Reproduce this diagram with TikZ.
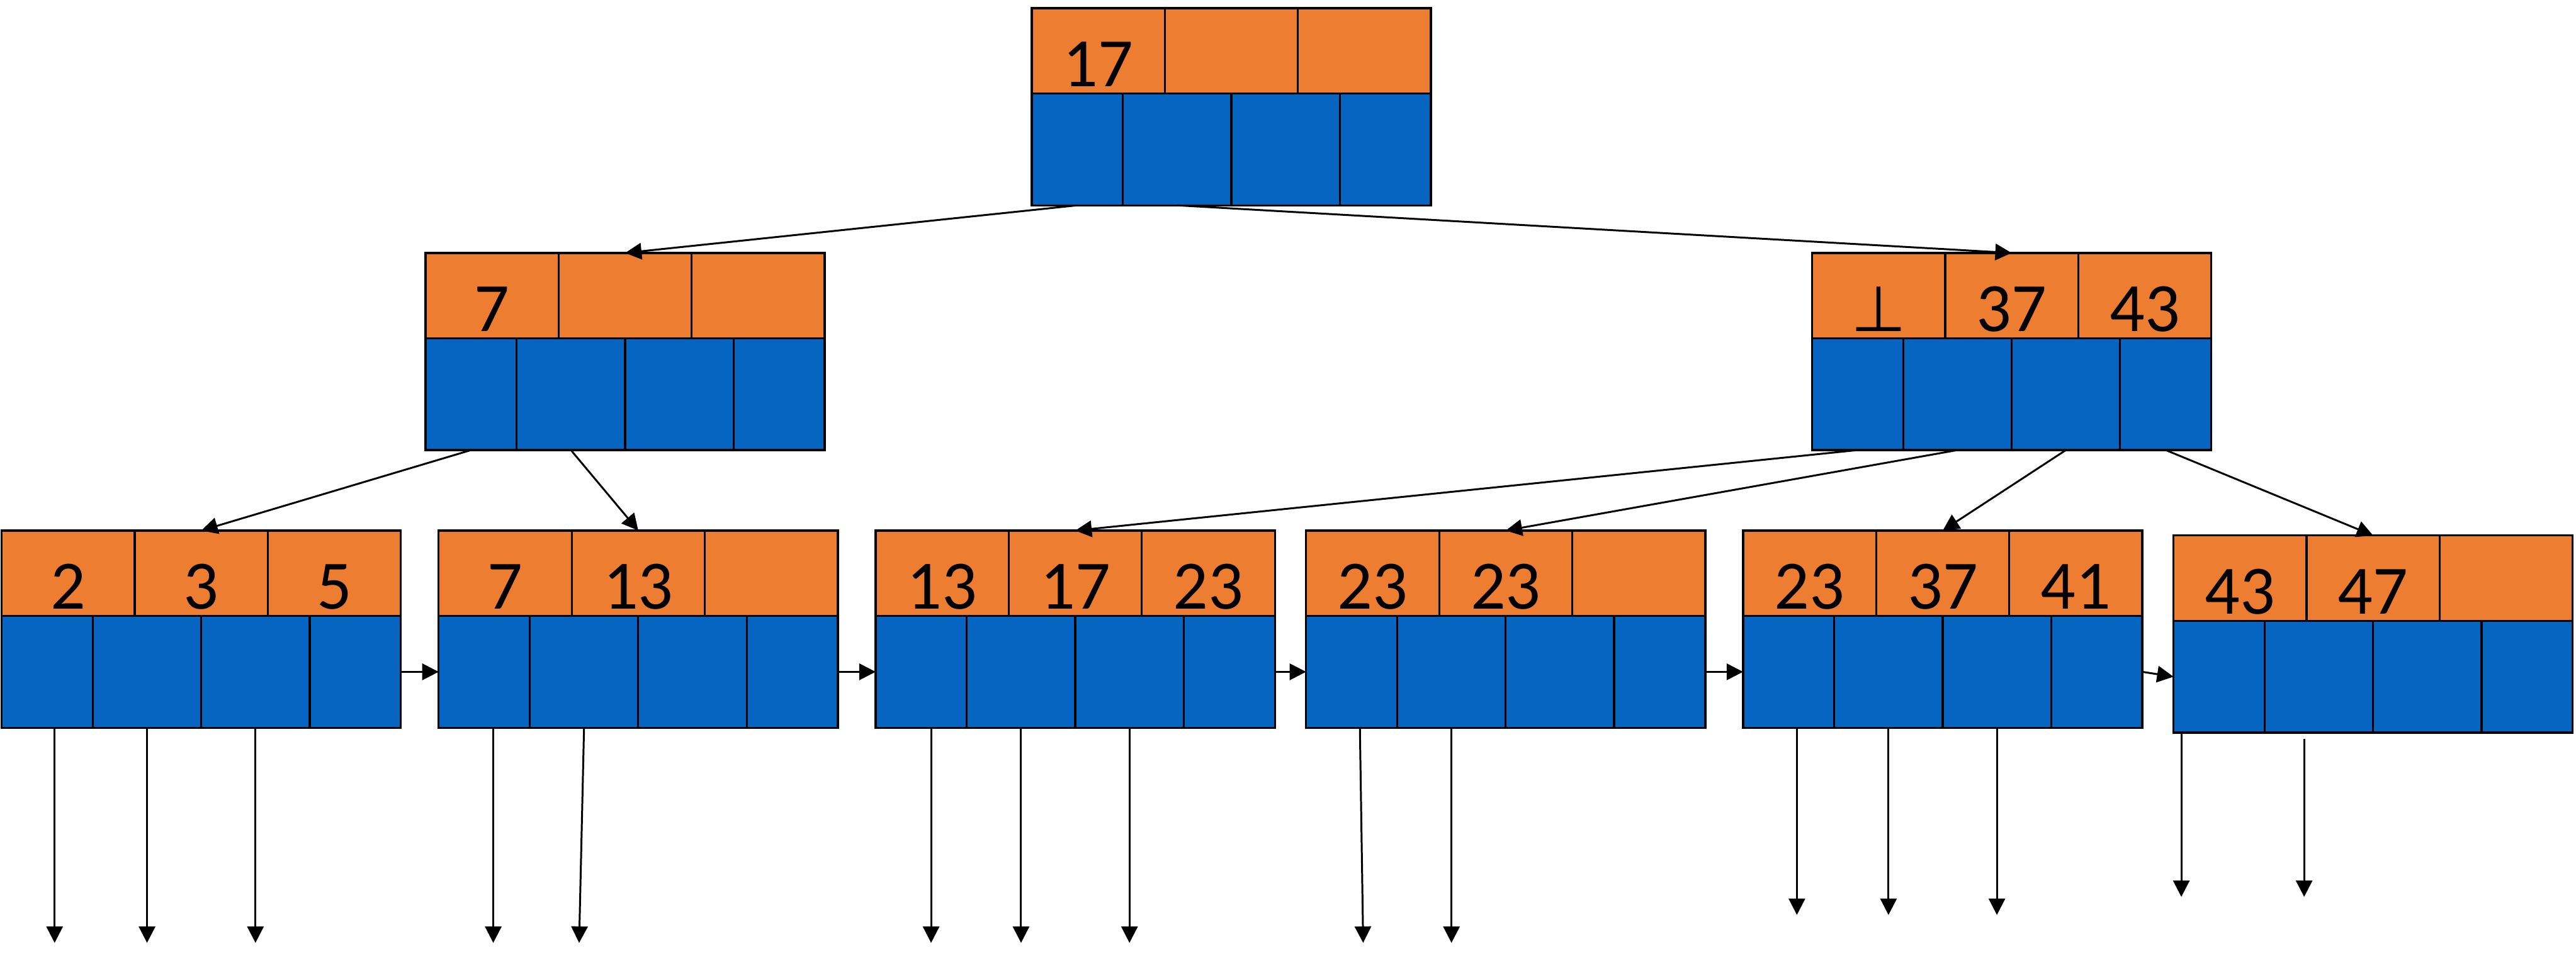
\documentclass[tikz,border=0pt]{standalone}
\usepackage{fontspec}
\setmainfont{Carlito}
\newfontfamily\symfont{DejaVu Sans}
\usepackage{tikz}
\usetikzlibrary{arrows.meta}
\definecolor{keyorange}{HTML}{ED7D31}
\definecolor{ptrblue}{HTML}{0565C0}
\tikzset{keycell/.style={draw, fill=keyorange, line width=0.7pt, inner sep=0pt, outer sep=0pt,
   minimum width=1.62cm, minimum height=1.04cm, text height=0.955cm, text depth=0.085cm,
   anchor=north west, font=\fontsize{24}{28}\selectfont},
 ptrcell/.style={draw, fill=ptrblue, line width=0.7pt, inner sep=0pt, outer sep=0pt,
   minimum height=1.36cm, anchor=north west},
 edgeptr/.style={-{Triangle[length=0.2cm,width=0.2cm]}, line width=0.65pt},
 }
\newcommand{\bpnode}[5]{%
  \node[keycell] (#1-k1) at (#2) {#3};
  \node[keycell] (#1-k2) at (#1-k1.north east) {#4};
  \node[keycell] (#1-k3) at (#1-k2.north east) {#5};
  \node[ptrcell, minimum width=1.11cm] (#1-p1) at (#1-k1.south west) {};
  \node[ptrcell, minimum width=1.32cm] (#1-p2) at (#1-p1.north east) {};
  \node[ptrcell, minimum width=1.32cm] (#1-p3) at (#1-p2.north east) {};
  \node[ptrcell, minimum width=1.11cm] (#1-p4) at (#1-p3.north east) {};
}

\begin{document}
\begin{tikzpicture}
        \useasboundingbox (0,0) rectangle (31.36,-11.72);
        \bpnode{root}{12.56,-0.10}{17}{}{}
        \bpnode{left}{5.18,-3.08}{7}{}{}
        \bpnode{right}{22.06,-3.08}{{\symfont\fontsize{22}{26}\selectfont ⊥}}{37}{43}
        \bpnode{lf1}{0.02,-6.46}{2}{3}{5}
        \bpnode{lf2}{5.34,-6.46}{7}{13}{}
        \bpnode{lf3}{10.66,-6.46}{13}{17}{23}
        \bpnode{lf4}{15.90,-6.46}{23}{23}{}
        \bpnode{lf5}{21.22,-6.46}{23}{37}{41}
        \bpnode{lf6}{26.46,-6.52}{43}{47}{}
        \draw[edgeptr] (root-p1.south) -- (left-k2.north);
        \draw[edgeptr] (root-p2.south) -- (right-k2.north);
        \draw[edgeptr] (left-p1.south) -- (lf1-k2.north);
        \draw[edgeptr] (left-p2.south) -- (lf2-k2.north);
        \draw[edgeptr] (right-p1.south) -- (lf3-k2.north);
        \draw[edgeptr] (right-p2.south) -- (lf4-k2.north);
        \draw[edgeptr] (right-p3.south) -- (lf5-k2.north);
        \draw[edgeptr] (right-p4.south) -- (lf6-k2.north);
        \draw[edgeptr] (lf1-p4.east) -- (lf2-p1.west);
        \draw[edgeptr] (lf2-p4.east) -- (lf3-p1.west);
        \draw[edgeptr] (lf3-p4.east) -- (lf4-p1.west);
        \draw[edgeptr] (lf4-p4.east) -- (lf5-p1.west);
        \draw[edgeptr] (lf5-p4.east) -- (lf6-p1.west);
        \foreach \n/\c/\sx/\sy/\ex/\len in {lf1/1/0.09/0/0.09/2.62, lf1/2/0/0/0/2.62, lf1/3/0/0/0/2.62,
            lf2/1/0.11/0/0.11/2.62, lf2/2/0/0/-0.06/2.62,
            lf3/1/0.12/0/0.12/2.62, lf3/2/0/0/0/2.62, lf3/3/0/0/0/2.62,
            lf4/1/0.1/0/0.14/2.62, lf4/2/0/0/0/2.62,
            lf5/1/0.1/0/0.1/2.28, lf5/2/0/0/0/2.28, lf5/3/0/0/0/2.28,
            lf6/1/-0.46/0/-0.46/2.0, lf6/2/-0.18/-0.08/-0.18/2.0} {
          \coordinate (\n-s\c) at ([xshift=\sx cm, yshift=\sy cm]\n-p\c.south);
          \coordinate (\n-e\c) at ([xshift=\ex cm, yshift=-\len cm]\n-p\c.south);
          \draw[edgeptr] (\n-s\c) -- (\n-e\c);
        }
\end{tikzpicture}
\end{document}
